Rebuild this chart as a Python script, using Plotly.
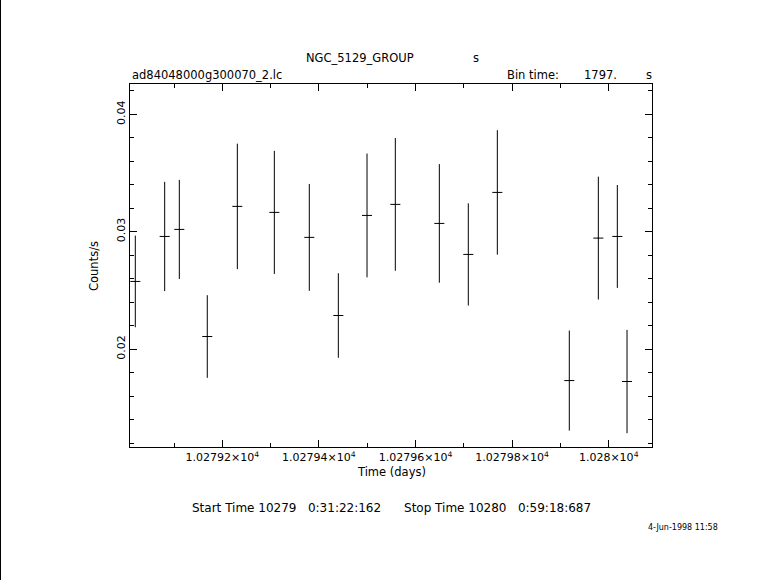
import plotly.graph_objects as go

# ---- data ----
time_days = [10279.0199, 10279.0807, 10279.1110, 10279.1689, 10279.2311,
             10279.3077, 10279.3801, 10279.4402, 10279.4996, 10279.5582,
             10279.6493, 10279.7093, 10279.7694, 10279.9184, 10279.9785,
             10280.0178, 10280.0379]
rate = [0.02577, 0.02960, 0.03020, 0.02108, 0.03216,
        0.03165, 0.02952, 0.02287, 0.03139, 0.03233,
        0.03071, 0.02807, 0.03335, 0.01733, 0.02946,
        0.02960, 0.01725]
rate_err = [0.00390, 0.00465, 0.00422, 0.00352, 0.00534,
            0.00524, 0.00455, 0.00360, 0.00527, 0.00565,
            0.00505, 0.00435, 0.00530, 0.00426, 0.00523,
            0.00438, 0.00440]
bin_time_s = 1797.0
half_bin_days = [bin_time_s / 2 / 86400.0] * len(time_days)

x_tickvals = [10279.2, 10279.4, 10279.6, 10279.8, 10280.0]
x_ticktext = ["1.02792×10<sup>4</sup>", "1.02794×10<sup>4</sup>",
              "1.02796×10<sup>4</sup>", "1.02798×10<sup>4</sup>",
              "1.028×10<sup>4</sup>"]
y_tickvals = [0.02, 0.03, 0.04]
y_ticktext = ["0.02", "0.03", "0.04"]

# ---- layout geometry (pixels) ----
W, H = 781, 580
L, R, T, B = 130, 652, 84, 447
FONT = "DejaVu Sans"
NB = "\u00a0"


def px(x):
    return (x - L) / (R - L)


def py(y):
    return (B - y) / (B - T)


fig = go.Figure()
fig.add_trace(go.Scatter(
    x=time_days, y=rate, mode="markers",
    marker=dict(size=1, color="black"),
    error_y=dict(type="data", array=rate_err, visible=True,
                 color="black", thickness=1, width=0),
    error_x=dict(type="data", array=half_bin_days, visible=True,
                 color="black", thickness=1, width=0),
    showlegend=False, hoverinfo="x+y",
))

axis_common = dict(
    showline=True, linecolor="black", linewidth=1, mirror="allticks",
    ticks="inside", tickcolor="black", tickwidth=1, ticklen=7,
    showgrid=False, zeroline=False,
    tickfont=dict(family=FONT, size=11, color="black"),
)

fig.update_xaxes(
    range=[10279.0089, 10280.0896],
    tickmode="array", tickvals=x_tickvals, ticktext=x_ticktext,
    minor=dict(dtick=0.1, tick0=10279.1, ticks="inside", ticklen=4,
               tickcolor="black", tickwidth=1, showgrid=False),
    **axis_common,
)
fig.update_yaxes(
    range=[0.011674, 0.04258],
    tickmode="array", tickvals=y_tickvals, ticktext=y_ticktext,
    tickangle=-90,
    minor=dict(dtick=0.002, tick0=0.012, ticks="inside", ticklen=4,
               tickcolor="black", tickwidth=1, showgrid=False),
    **axis_common,
)

ann = []


def text(s, x, y, size=11.5, xanchor="center", angle=0):
    ann.append(dict(text=s, x=px(x), y=py(y), xref="paper", yref="paper",
                    showarrow=False, xanchor=xanchor, yanchor="middle",
                    textangle=angle,
                    font=dict(family=FONT, size=size, color="black")))


text("NGC_5129_GROUP", 304, 58, xanchor="left")
text("s", 471, 58, xanchor="left")
text("ad84048000g300070_2.lc", 130, 75, xanchor="left")
text("Bin time:", 505, 75, xanchor="left")
text("1797.", 582, 75, xanchor="left")
text("s", 644, 75, xanchor="left")
text("Time (days)", 391, 472)
text("Counts/s", 94, 266, angle=-90)
text("Start Time 10279" + NB * 3 + "0:31:22:162" + NB * 6 +
     "Stop Time 10280" + NB * 3 + "0:59:18:687", 391, 508, size=12)
text("4-Jun-1998 11:58", 683, 527, size=8)

fig.update_layout(
    width=W, height=H,
    margin=dict(l=L, r=W - R, t=T, b=H - B, pad=0),
    paper_bgcolor="white", plot_bgcolor="white",
    annotations=ann,
    shapes=[dict(type="line", xref="paper", yref="paper",
                 x0=px(0.5), x1=px(0.5), y0=py(0), y1=py(H),
                 line=dict(color="black", width=1))],
)

fig.write_html("out.html",
               config={"displayModeBar": False},
               post_script="document.body.style.margin='0px';"
                           "document.body.style.padding='0px';")
